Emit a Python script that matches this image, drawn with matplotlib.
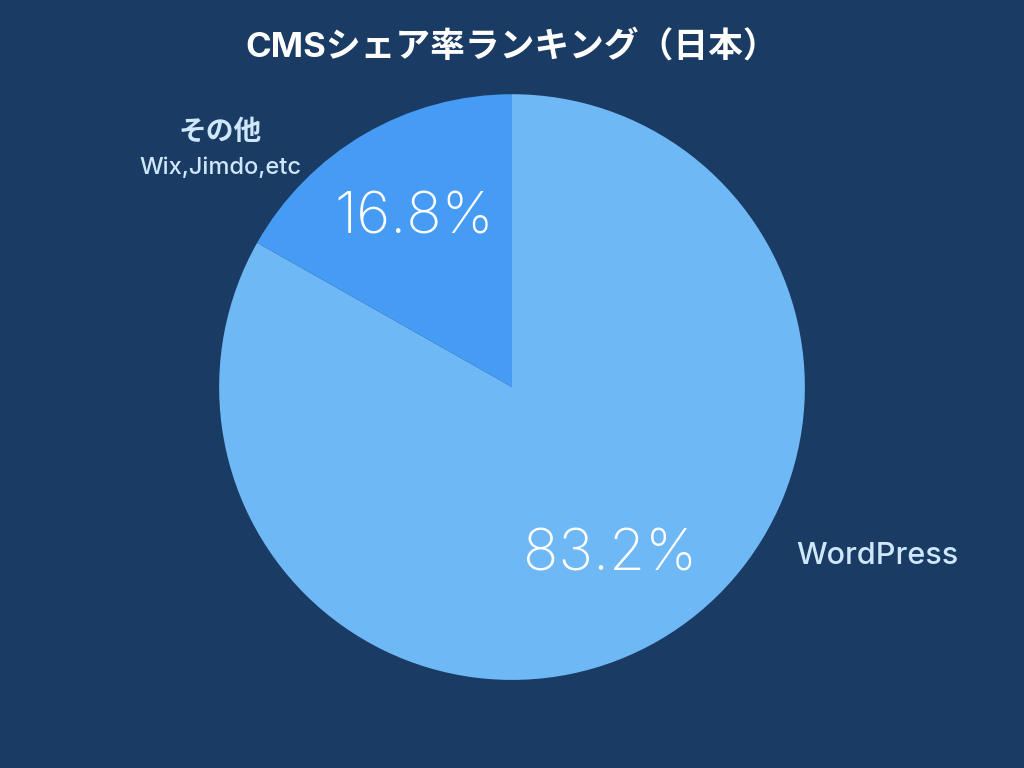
import matplotlib.pyplot as plt

plt.rcParams['font.family'] = ['Inter', 'Noto Sans CJK JP', 'DejaVu Sans']

labels = ['WordPress', 'その他']
sub_labels = ['', 'Wix,Jimdo,etc']
shares = [83.2, 16.8]
colors = ['#6fb8f6', '#469cf4']

bg = '#1a3b63'
label_color = '#cfe7fa'

fig = plt.figure(figsize=(10.24, 7.68), dpi=100, facecolor=bg)
ax = fig.add_axes([0.214, 0.1145, 0.572, 0.763])
ax.set_facecolor(bg)

wedges, texts, autotexts = ax.pie(
    shares, colors=colors, startangle=90, counterclock=False,
    autopct='%.1f%%', pctdistance=0.665,
    wedgeprops={'linewidth': 0},
    textprops={'color': 'white', 'fontsize': 42, 'fontweight': 'light'})
ax.set_xlim(-1, 1)
ax.set_ylim(-1, 1)
ax.set_aspect('equal')

ax.text(1.249, -0.577, labels[0], color=label_color, fontsize=22,
        fontweight='medium', ha='center', va='center', clip_on=False)
ax.text(-0.997, 0.867, labels[1], color=label_color, fontsize=20,
        fontweight='bold', ha='center', va='center', clip_on=False)
ax.text(-0.997, 0.747, sub_labels[1], color=label_color, fontsize=17,
        fontweight='medium', ha='center', va='center', clip_on=False)

fig.text(0.5, 0.939, 'CMSシェア率ランキング（日本）', color='white',
         fontsize=25, fontweight='bold', ha='center', va='center')

fig.savefig('out.png', dpi=100, facecolor=bg)
